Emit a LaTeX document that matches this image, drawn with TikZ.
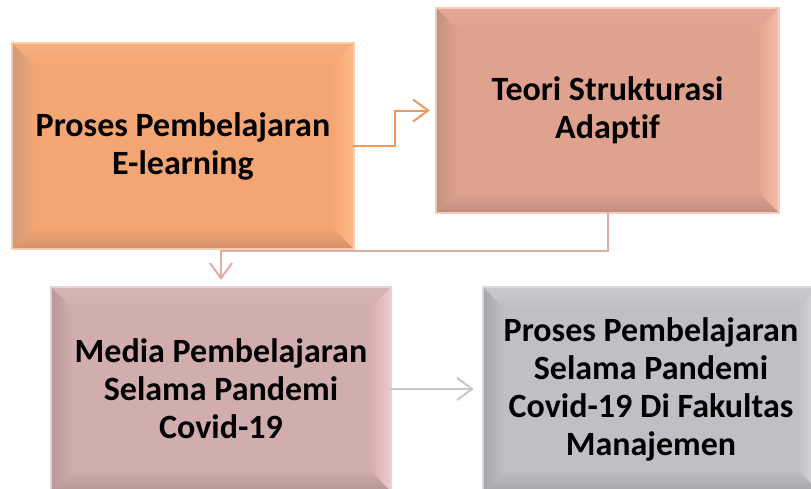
\documentclass[tikz,border=0pt]{standalone}
\usepackage{fontspec}
\setmainfont{Carlito}[Ligatures=NoCommon]
\usetikzlibrary{calc,backgrounds,arrows.meta}
\definecolor{oMain}{HTML}{F3A673}\definecolor{oTop}{HTML}{F6AF7E}\definecolor{oRight}{HTML}{FDBB88}\definecolor{oLeft}{HTML}{D39A7A}\definecolor{oBot}{HTML}{D6926B}\definecolor{oRim}{HTML}{F9D0B4}
\definecolor{sMain}{HTML}{DFA28E}\definecolor{sTop}{HTML}{E3A994}\definecolor{sRight}{HTML}{F9BBA4}\definecolor{sLeft}{HTML}{C39283}\definecolor{sBot}{HTML}{C28E7F}\definecolor{sRim}{HTML}{F3CFC3}
\definecolor{pMain}{HTML}{D2ADAD}\definecolor{pTop}{HTML}{D7B4B4}\definecolor{pRight}{HTML}{F0C8C8}\definecolor{pLeft}{HTML}{B89A9A}\definecolor{pBot}{HTML}{B79696}\definecolor{pRim}{HTML}{E8D3D3}
\definecolor{gMain}{HTML}{C0BFC6}\definecolor{gTop}{HTML}{CAC9CF}\definecolor{gRight}{HTML}{DCDBE1}\definecolor{gLeft}{HTML}{A8A7AE}\definecolor{gBot}{HTML}{A7A6AC}\definecolor{gRim}{HTML}{DCDCE0}
\definecolor{cOrange}{HTML}{F0965C}\definecolor{cPink}{HTML}{E3AAA3}\definecolor{cGray}{HTML}{C6C6CB}
\newcommand{\bevelbox}[2]{%
  \begin{scope}[on background layer]
  \fill[#2Rim] ($(#1.north west)+(-2,-2)$) rectangle ($(#1.south east)+(2,2)$);
  \fill[#2Main] (#1.north west) rectangle (#1.south east);
  \shade[top color=#2Top, bottom color=#2Main] (#1.north west) -- (#1.north east) -- ($(#1.north east)+(-21,21)$) -- ($(#1.north west)+(21,21)$) -- cycle;
  \shade[bottom color=#2Bot, top color=#2Main] (#1.south west) -- (#1.south east) -- ($(#1.south east)+(-21,-21)$) -- ($(#1.south west)+(21,-21)$) -- cycle;
  \shade[left color=#2Left, right color=#2Main] (#1.north west) -- (#1.south west) -- ($(#1.south west)+(21,-21)$) -- ($(#1.north west)+(21,21)$) -- cycle;
  \shade[right color=#2Right, left color=#2Main] (#1.north east) -- (#1.south east) -- ($(#1.south east)+(-21,-21)$) -- ($(#1.north east)+(-21,21)$) -- cycle;
  \end{scope}}
\tikzset{
  boxnode/.style={align=center, inner sep=0pt, font=\fontsize{34}{38}\selectfont\bfseries},
  conn/.style={line width=2pt, -{Straight Barb[length=15pt,width=22pt,line width=2pt]}},
}
\begin{document}
\begin{tikzpicture}[x=1pt,y=-1pt]
\useasboundingbox (0,0) rectangle (811,488);
\clip (0,0) rectangle (811,488);
\node[boxnode, minimum width=340pt, minimum height=204pt] (b1) at (183,146) {Proses Pembelajaran\\E-learning};
\node[boxnode, minimum width=341pt, minimum height=203pt] (b2) at (607.5,110.5) {Teori Strukturasi\\Adaptif};
\node[boxnode, minimum width=338pt, minimum height=202pt] (b3) at (221,389) {Media Pembelajaran\\Selama Pandemi\\Covid-19};
\node[boxnode, minimum width=334pt, minimum height=202pt] (b4) at (651,389) {Proses Pembelajaran\\Selama Pandemi\\Covid-19 Di Fakultas\\Manajemen};
\bevelbox{b1}{o}
\bevelbox{b2}{s}
\bevelbox{b3}{p}
\bevelbox{b4}{g}
\draw[conn, cOrange, shorten >=7pt] (b1.east) -- ++(42,0) |- (b2.west);
\draw[conn, cPink, shorten >=8pt] (b2.south) -- ++(0,39) -| (b3.north);
\draw[conn, cGray, shorten >=10pt] (b3.east) -- (b4.west);
\end{tikzpicture}
\end{document}
